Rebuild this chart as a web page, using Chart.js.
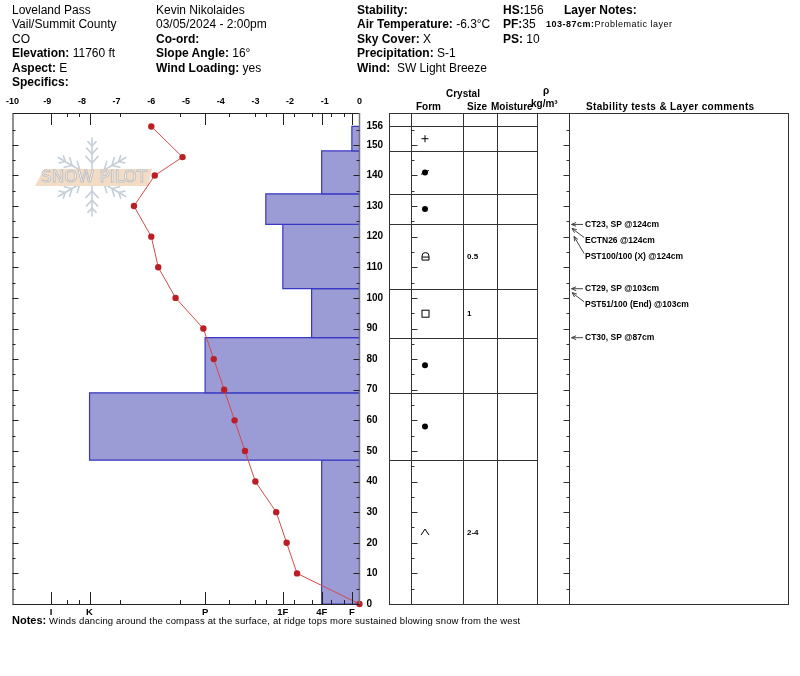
<!DOCTYPE html>
<html>
<head>
<meta charset="utf-8">
<script src="https://cdn.jsdelivr.net/npm/chart.js@4.4.1/dist/chart.umd.min.js"></script>
<style>
body { margin: 0; background: #fff; font-family: "Liberation Sans", Arial, sans-serif; }
#wrap { position: relative; width: 800px; height: 676px; overflow: hidden; }
canvas { position: absolute; left: 0; top: 0; }
.hdr { position: absolute; font-size: 12px; line-height: 14.4px; color: #000; white-space: nowrap; }
.small { position: absolute; font-size: 9px; white-space: nowrap; letter-spacing: 0.5px; }
.notes { position: absolute; left: 12px; top: 614px; font-size: 9.5px; white-space: nowrap; letter-spacing: 0.15px; }
.notes b { font-size: 11px; letter-spacing: 0; }
</style>
</head>
<body>
<div id="wrap">
<canvas id="pit" width="800" height="676"></canvas>
<div class="hdr" style="left:12px;top:3px">Loveland Pass<br>Vail/Summit County<br>CO<br><b>Elevation:</b> 11760 ft<br><b>Aspect:</b> E<br><b>Specifics:</b></div>
<div class="hdr" style="left:156px;top:3px">Kevin Nikolaides<br>03/05/2024 - 2:00pm<br><b>Co-ord:</b><br><b>Slope Angle:</b> 16°<br><b>Wind Loading:</b> yes</div>
<div class="hdr" style="left:357px;top:3px"><b>Stability:</b><br><b>Air Temperature:</b> -6.3°C<br><b>Sky Cover:</b> X<br><b>Precipitation:</b> S-1<br><b>Wind:</b>&nbsp; SW Light Breeze</div>
<div class="hdr" style="left:503px;top:3px"><b>HS:</b>156<br><b>PF:</b>35<br><b>PS:</b> 10</div>
<div class="hdr" style="left:564px;top:3px"><b>Layer Notes:</b></div>
<div class="small" style="left:546px;top:19px"><b>103-87cm:</b>Problematic layer</div>
<div class="notes"><b>Notes:</b> Winds dancing around the compass at the surface, at ridge tops more sustained blowing snow from the west</div>
</div>
<script>
// temperature profile (height in cm, temperature in deg C)
var tempHeights = [156, 146, 140, 130, 120, 110, 100, 90, 80, 70, 60, 50, 40, 30, 20, 10, 0];
var tempValues = [-6, -5.1, -5.9, -6.5, -6, -5.8, -5.3, -4.5, -4.2, -3.9, -3.6, -3.3, -3, -2.4, -2.1, -1.8, 0];

// snow layers, top to bottom
var layerTops = [156, 148, 134, 124, 103, 87, 69, 47];
var layerBottoms = [148, 134, 124, 103, 87, 69, 47, 0];
var layerHardness = ['F', '4F', '1F+', '1F', '4F+', 'P', 'K', '4F'];
var layerForms = ['PP', 'RGwp', 'RG', 'FCxr', 'FC', 'RG', 'RG', 'DH'];
var layerSizes = ['', '', '', '0.5', '1', '', '', '2-4'];

// hand hardness scale (axis units from the right edge)
var hardnessLabels = ['I', 'K', 'P', '1F', '4F', 'F'];
var hardnessScale = { 'I': 8.89, 'K': 7.78, 'P': 4.45, '1F+': 2.70, '1F': 2.21, '4F+': 1.38, '4F': 1.09, 'F': 0.22 };
var hardnessMinor = [8.43, 8.08, 6.89, 5.17, 3.75, 3.01, 2.70, 1.88, 1.38, 0.82, 0.45];

// axis ticks
var tempTicks = [-10, -9, -8, -7, -6, -5, -4, -3, -2, -1, 0];
var heightTicks = [0, 10, 20, 30, 40, 50, 60, 70, 80, 90, 100, 110, 120, 130, 140, 150, 156];

// stability tests
var testText = ['CT23, SP @124cm', 'ECTN26 @124cm', 'PST100/100 (X) @124cm', 'CT29, SP @103cm', 'PST51/100 (End) @103cm', 'CT30, SP @87cm'];
var testDepth = [124, 124, 124, 103, 103, 87];

Chart.defaults.font.family = '"Liberation Sans", Arial, sans-serif';
Chart.defaults.color = '#000';

function line(ctx, x1, y1, x2, y2) {
    ctx.beginPath();
    ctx.moveTo(x1, y1);
    ctx.lineTo(x2, y2);
    ctx.stroke();
}

function drawLogo(ctx) {
    var cx = 92, cy = 177, R = 39;
    ctx.save();
    ctx.strokeStyle = '#c6cfd8';
    ctx.lineWidth = 1.6;
    ctx.lineCap = 'round';
    for (var a = 0; a < 6; a++) {
        var ang = Math.PI / 2 + a * Math.PI / 3;
        var dx = Math.cos(ang), dy = -Math.sin(ang);
        line(ctx, cx + dx * 5, cy + dy * 5, cx + dx * R, cy + dy * R);
        [[14, 9], [23, 8], [31, 6]].forEach(function (b) {
            var px = cx + dx * b[0], py = cy + dy * b[0];
            [-1, 1].forEach(function (s) {
                var ba = ang + s * 0.75;
                line(ctx, px, py, px + Math.cos(ba) * b[1], py - Math.sin(ba) * b[1]);
            });
        });
    }
    // banner
    ctx.fillStyle = '#f2dcc6';
    ctx.beginPath();
    ctx.moveTo(44, 169);
    ctx.lineTo(152, 169);
    ctx.lineTo(148, 186);
    ctx.lineTo(35, 186);
    ctx.closePath();
    ctx.fill();
    // text
    ctx.font = '15px "DejaVu Sans"';
    var w = ctx.measureText('SNOW PILOT').width;
    ctx.translate(94, 178);
    ctx.scale(106 / w, 1);
    ctx.textAlign = 'center';
    ctx.textBaseline = 'middle';
    ctx.fillStyle = '#fff';
    ctx.fillText('SNOW PILOT', 0, 0);
    ctx.strokeStyle = '#bdbdbd';
    ctx.lineWidth = 0.8;
    ctx.strokeText('SNOW PILOT', 0, 0);
    ctx.restore();
}

function drawForm(ctx, form, x, y) {
    ctx.save();
    ctx.strokeStyle = '#000';
    ctx.fillStyle = '#000';
    ctx.lineWidth = 1;
    if (form === 'PP') {
        line(ctx, x - 3.5, y, x + 3.5, y);
        line(ctx, x, y - 3.5, x, y + 3.5);
    } else if (form === 'RG' || form === 'RGwp') {
        ctx.beginPath();
        ctx.arc(x, y, 3, 0, Math.PI * 2);
        ctx.fill();
        if (form === 'RGwp') line(ctx, x - 4, y + 2, x + 4, y - 2);
    } else if (form === 'FC') {
        ctx.strokeRect(x - 3, y - 3, 7, 7);
    } else if (form === 'FCxr') {
        ctx.beginPath();
        ctx.moveTo(x - 3, y - 0.5);
        ctx.arc(x + 0.5, y - 0.5, 3.5, Math.PI, 0);
        ctx.lineTo(x + 4, y + 3.5);
        ctx.lineTo(x - 3, y + 3.5);
        ctx.closePath();
        ctx.stroke();
        line(ctx, x - 3, y + 0.5, x + 4, y + 0.5);
    } else if (form === 'DH') {
        ctx.beginPath();
        ctx.moveTo(x - 4, y + 3);
        ctx.lineTo(x, y - 3);
        ctx.lineTo(x + 4, y + 3);
        ctx.stroke();
    }
    ctx.restore();
}

function arrow(ctx, x1, y1, x2, y2) {
    line(ctx, x1, y1, x2, y2);
    var a = Math.atan2(y2 - y1, x2 - x1);
    ctx.beginPath();
    ctx.moveTo(x2 - 5 * Math.cos(a - 0.4), y2 - 5 * Math.sin(a - 0.4));
    ctx.lineTo(x2, y2);
    ctx.lineTo(x2 - 5 * Math.cos(a + 0.4), y2 - 5 * Math.sin(a + 0.4));
    ctx.stroke();
}

var pitPlugin = {
    id: 'pit',
    beforeDatasetsDraw: function (chart) {
        drawLogo(chart.ctx);
    },
    afterDraw: function (chart) {
        var ctx = chart.ctx, ca = chart.chartArea;
        var Y = function (h) { return chart.scales.y.getPixelForValue(h); };
        var XH = function (v) { return chart.scales.xh.getPixelForValue(v); };
        ctx.save();
        ctx.lineWidth = 1;
        ctx.strokeStyle = '#222';

        // plot frame
        line(ctx, ca.left + 0.5, ca.top + 0.5, ca.right, ca.top + 0.5);
        line(ctx, ca.left + 0.5, ca.top, ca.left + 0.5, ca.bottom + 0.5);
        line(ctx, ca.left, ca.bottom + 0.5, ca.right, ca.bottom + 0.5);
        ctx.strokeStyle = '#777';
        ctx.lineWidth = 1.5;
        line(ctx, ca.right, ca.top, ca.right, ca.bottom);
        ctx.lineWidth = 1;
        ctx.strokeStyle = '#222';

        // height ticks on both frame sides
        for (var h = 5; h <= 155; h += 5) {
            var y = Math.round(Y(h)) + 0.5, len = h % 10 === 0 ? 6 : 3;
            line(ctx, ca.left, y, ca.left + len, y);
            line(ctx, ca.right - len, y, ca.right, y);
        }
        // hardness ticks top and bottom
        hardnessLabels.forEach(function (k) {
            var x = Math.round(XH(hardnessScale[k])) + 0.5;
            line(ctx, x, ca.top, x, ca.top + 12);
            line(ctx, x, ca.bottom, x, ca.bottom - 12);
        });
        hardnessMinor.forEach(function (v) {
            var x = Math.round(XH(v)) + 0.5;
            line(ctx, x, ca.top, x, ca.top + 4);
            line(ctx, x, ca.bottom, x, ca.bottom - 4);
        });

        // table
        var cols = [389, 411, 463, 497, 537, 569, 788];
        var tTop = ca.top + 0.5, tBot = ca.bottom + 0.5;
        ctx.strokeStyle = '#333';
        cols.forEach(function (c) { line(ctx, c + 0.5, tTop, c + 0.5, tBot); });
        line(ctx, cols[0], tTop, cols[6] + 1, tTop);
        line(ctx, cols[0], tBot, cols[6] + 1, tBot);
        [layerTops[0]].concat(layerBottoms.slice(0, -1)).forEach(function (b) {
            var y = Math.round(Y(b)) + 0.5;
            line(ctx, cols[0], y, cols[4] + 1, y);
        });
        for (h = 5; h <= 155; h += 5) {
            y = Math.round(Y(h)) + 0.5;
            len = h % 10 === 0 ? 6 : 3;
            line(ctx, cols[1] + 0.5, y, cols[1] + 0.5 + len, y);
            line(ctx, cols[5] + 0.5 - len, y, cols[5] + 0.5, y);
        }

        // column headers
        ctx.fillStyle = '#000';
        ctx.font = 'bold 10px "Liberation Sans", Arial, sans-serif';
        ctx.textBaseline = 'middle';
        ctx.textAlign = 'left';
        ctx.letterSpacing = '0px';
        ctx.fillText('Crystal', 446, 94);
        ctx.fillText('Form', 416, 107);
        ctx.fillText('Size', 467, 107);
        ctx.fillText('Moisture', 491, 107);
        ctx.fillText('\u03C1', 543, 91);
        ctx.fillText('kg/m\u00B3', 531, 104);
        ctx.letterSpacing = '0.35px';
        ctx.fillText('Stability tests & Layer comments', 586, 107);

        // layers: grain form and size
        ctx.letterSpacing = '0px';
        ctx.font = 'bold 8px "Liberation Sans", Arial, sans-serif';
        layerTops.forEach(function (top, i) {
            var yc = Y((top + layerBottoms[i]) / 2);
            drawForm(ctx, layerForms[i], 425, yc);
            if (layerSizes[i]) ctx.fillText(layerSizes[i], 467, yc + 0.5);
        });

        // stability tests
        ctx.font = 'bold 8.5px "Liberation Sans", Arial, sans-serif';
        ctx.strokeStyle = '#444';
        var k = 0;
        testText.forEach(function (t, i) {
            k = (i > 0 && testDepth[i] === testDepth[i - 1]) ? k + 1 : 0;
            var yd = Y(testDepth[i]), ty = yd + k * 16;
            ctx.fillText(t, 585, ty);
            if (k === 0) arrow(ctx, 583, ty, 571.5, yd);
            else arrow(ctx, 584, ty - 3, 572 + (k - 1) * 2, yd + 4 + (k - 1) * 8);
        });
        ctx.restore();
    }
};

var tempSet = {
    label: 'Temperature',
    data: tempHeights.map(function (h, i) { return { x: tempValues[i], y: h }; }),
    xAxisID: 'x',
    yAxisID: 'y',
    borderColor: '#d24a4a',
    borderWidth: 1,
    pointRadius: 3.2,
    pointBorderWidth: 0,
    pointBackgroundColor: '#bb1f25',
    fill: false,
    clip: false,
    order: 0
};

var layerSets = layerTops.map(function (top, i) {
    var hv = hardnessScale[layerHardness[i]], bot = layerBottoms[i];
    return {
        label: 'Layer ' + (i + 1),
        data: [{ x: 0, y: top }, { x: hv, y: top }, { x: hv, y: bot }, { x: 0, y: bot }, { x: 0, y: top }],
        xAxisID: 'xh',
        yAxisID: 'y',
        backgroundColor: '#9b9bd6',
        borderColor: '#3838c2',
        borderWidth: 1.2,
        pointRadius: 0,
        fill: 'shape',
        order: 1
    };
});

var noGrid = { display: false, drawTicks: false };

var pitChart = new Chart('pit', {
    type: 'line',
    data: { datasets: [tempSet].concat(layerSets) },
    options: {
        responsive: false,
        animation: false,
        devicePixelRatio: 1,
        events: [],
        layout: { padding: { left: 12, right: 410.5, top: 93, bottom: 54 } },
        plugins: { legend: { display: false }, tooltip: { enabled: false } },
        scales: {
            x: {
                type: 'linear', position: 'top', min: -10, max: 0,
                afterFit: function (s) { s.height = 20; },
                afterBuildTicks: function (s) { s.ticks = tempTicks.map(function (v) { return { value: v }; }); },
                grid: noGrid, border: { display: false },
                ticks: { autoSkip: false, maxRotation: 0, padding: 6, font: { size: 9, weight: 'bold' } }
            },
            xh: {
                type: 'linear', axis: 'x', position: 'bottom', min: 0, max: 10, reverse: true,
                afterFit: function (s) { s.height = 18; },
                afterBuildTicks: function (s) { s.ticks = hardnessLabels.map(function (k) { return { value: hardnessScale[k] }; }); },
                grid: noGrid, border: { display: false },
                ticks: {
                    autoSkip: false, maxRotation: 0, padding: 3, font: { size: 9.5, weight: 'bold' },
                    callback: function (v) {
                        return hardnessLabels.filter(function (k) { return hardnessScale[k] === v; })[0];
                    }
                }
            },
            y: {
                type: 'linear', position: 'right', min: 0, max: 160.4,
                afterFit: function (s) { s.width = 30; },
                afterBuildTicks: function (s) { s.ticks = heightTicks.map(function (v) { return { value: v }; }); },
                grid: noGrid, border: { display: false },
                ticks: { autoSkip: false, crossAlign: 'near', padding: 7, font: { size: 10, weight: 'bold' } }
            }
        }
    },
    plugins: [pitPlugin]
});
</script>
</body>
</html>
